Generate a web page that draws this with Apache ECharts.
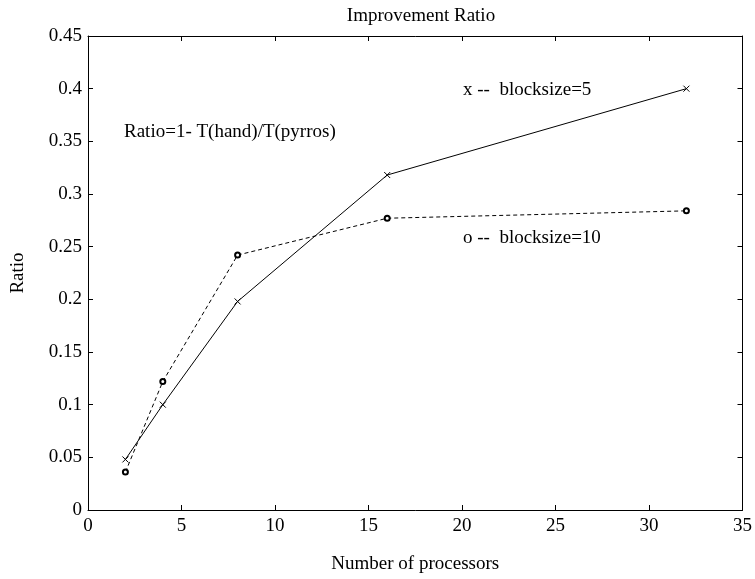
<!DOCTYPE html>
<html><head><meta charset="utf-8">
<script src="https://cdn.jsdelivr.net/npm/echarts@6/dist/echarts.min.js"></script>
<style>html,body{margin:0;padding:0;background:#fff}#c{width:755px;height:579px}</style>
</head><body><div id="c"></div>
<script>
var procs = [2, 4, 8, 16, 32];
var block5 = [0.048, 0.100, 0.198, 0.318, 0.400];
var block10 = [0.036, 0.122, 0.242, 0.277, 0.284];
var xTicks = [0, 5, 10, 15, 20, 25, 30, 35];
var yTicks = [0, 0.05, 0.1, 0.15, 0.2, 0.25, 0.3, 0.35, 0.4, 0.45];

var F = 'Liberation Serif';
var chart = echarts.init(document.getElementById('c'));
function pairs(xs, ys){ return xs.map(function(x,i){ return [x, ys[i]]; }); }
var axisBase = {
  type: 'value',
  axisLine: {show: true, onZero: false, lineStyle: {color: '#000', width: 1}},
  axisTick: {show: true, inside: true, length: 5, lineStyle: {color: '#000'}},
  splitLine: {show: false}
};
chart.setOption({
  animation: false,
  title: {text: 'Improvement Ratio', left: 416, top: 2, textAlign: 'center',
    textStyle: {fontFamily: F, fontSize: 19, fontWeight: 'normal', color: '#000'}},
  grid: {left: 88, right: 11, top: 36, bottom: 66},
  xAxis: [
    Object.assign({}, axisBase, {position: 'bottom', min: xTicks[0], max: xTicks[xTicks.length-1], interval: 5,
      axisLabel: {fontFamily: F, fontSize: 19, color: '#000', margin: 7},
      name: 'Number of processors', nameLocation: 'middle', nameGap: 45,
      nameTextStyle: {fontFamily: F, fontSize: 19, color: '#000'}}),
    Object.assign({}, axisBase, {position: 'top', min: 0, max: 35, interval: 5, axisLabel: {show: false}})
  ],
  yAxis: [
    Object.assign({}, axisBase, {position: 'left', min: yTicks[0], max: yTicks[yTicks.length-1], interval: 0.05,
      axisLabel: {fontFamily: F, fontSize: 19, color: '#000', margin: 6,
        formatter: function(v){ return String(+v.toFixed(2)); }},
      name: 'Ratio', nameLocation: 'middle', nameGap: 60, nameRotate: 90,
      nameTextStyle: {fontFamily: F, fontSize: 19, color: '#000'}}),
    Object.assign({}, axisBase, {position: 'right', min: 0, max: 0.45, interval: 0.05, axisLabel: {show: false}})
  ],
  series: [
    {type: 'line', data: pairs(procs, block5),
      symbol: 'path://M0,0L10,10M10,0L0,10', symbolSize: 6,
      itemStyle: {color: 'none', borderColor: '#000', borderWidth: 1},
      lineStyle: {color: '#000', width: 1, type: 'solid'}},
    {type: 'line', data: pairs(procs, block10),
      symbol: 'emptyCircle', symbolSize: 5,
      itemStyle: {color: '#000', borderColor: '#000', borderWidth: 0.8},
      lineStyle: {color: '#000', width: 1, type: [4, 3]}}
  ],
  graphic: [
    {type: 'text', left: 124, top: 123, style: {text: 'Ratio=1- T(hand)/T(pyrros)', font: '19px "Liberation Serif"', fill: '#000'}},
    {type: 'text', left: 463, top: 81, style: {text: 'x --  blocksize=5', font: '19px "Liberation Serif"', fill: '#000'}},
    {type: 'text', left: 463, top: 229, style: {text: 'o --  blocksize=10', font: '19px "Liberation Serif"', fill: '#000'}}
  ]
});
</script></body></html>
